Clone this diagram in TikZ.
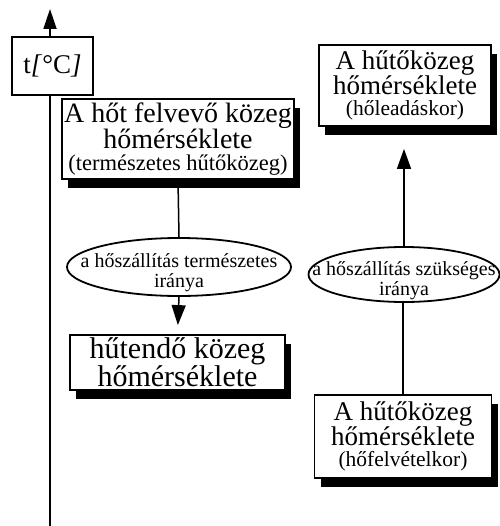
\documentclass[tikz,border=0pt]{standalone}
\usepackage{fontspec}
\setmainfont{Liberation Serif}
\usetikzlibrary{shapes.geometric,arrows.meta,shadows}
\newcommand{\ovaltext}[1]{\smash{\makebox[0pt]{\raisebox{-12pt}{\begin{tabular}{@{}c@{}}#1\end{tabular}}}}}
\begin{document}
\begin{tikzpicture}[x=1pt,y=-1pt,
  box/.style={draw=black,line width=1.8pt,fill=white,inner sep=0pt,align=center,
    drop shadow={shadow xshift=6pt,shadow yshift=-9pt,fill=black,opacity=1}},
  plainbox/.style={draw=black,line width=1.6pt,fill=white,inner sep=0pt,align=center},
  oval/.style={ellipse,draw=black,line width=1.8pt,fill=white,inner sep=0pt,
    font=\fontsize{20}{20}\selectfont},
  conn/.style={line width=1.5pt},
  arr/.style={line width=1.5pt,-{Triangle[width=14pt,length=20pt]}}
]
\useasboundingbox (0,0) rectangle (499,526);
\coordinate (axbot) at (50,526);
\coordinate (axtop) at (50,9);
\draw[line width=1.8pt,-{Triangle[width=13pt,length=20pt]}] (axbot) -- (axtop);
\node[plainbox,font=\fontsize{27}{25}\selectfont,minimum width=81pt,minimum height=58pt] (tbox) at (52.5,66) {t\textit{[}°C\textit{]}};

\node[box,font=\fontsize{28}{26}\selectfont,minimum width=232pt,minimum height=80pt] (box1) at (178,139)
  {A hőt felvevő közeg\\hőmérséklete\\[-4pt]{\fontsize{22.5}{20}\selectfont (természetes hűtőközeg)}};
\node[oval,minimum width=224pt,minimum height=58pt] (ell1) at (179,267)
  {\ovaltext{a hőszállítás természetes\\iránya}};
\node[box,font=\fontsize{30}{26}\selectfont,minimum width=215pt,minimum height=55pt] (box2) at (177.5,362.5)
  {hűtendő közeg\\hőmérséklete};

\node[box,font=\fontsize{27}{24}\selectfont,minimum width=172pt,minimum height=81pt] (box3) at (405,85.5)
  {A hűtőközeg\\hőmérséklete\\[-3pt]{\fontsize{21.5}{20}\selectfont (hőleadáskor)}};
\node[oval,minimum width=191pt,minimum height=55pt] (ell2) at (404,274.5)
  {\ovaltext{a hőszállítás szükséges\\iránya}};
\node[box,font=\fontsize{27}{24}\selectfont,minimum width=177pt,minimum height=83pt] (box4) at (403,436.5)
  {A hűtőközeg\\hőmérséklete\\[-3pt]{\fontsize{21.5}{20}\selectfont (hőfelvételkor)}};

\draw[conn] (box1.south) -- (ell1.north);
\draw[arr,shorten >=9pt] (ell1.south) -- (box2.north);
\draw[arr,shorten >=22pt] (ell2.north) -- (ell2.north |- box3.south);
\draw[conn] (box4.north) -- (box4.north |- ell2.south);
\end{tikzpicture}
\end{document}
